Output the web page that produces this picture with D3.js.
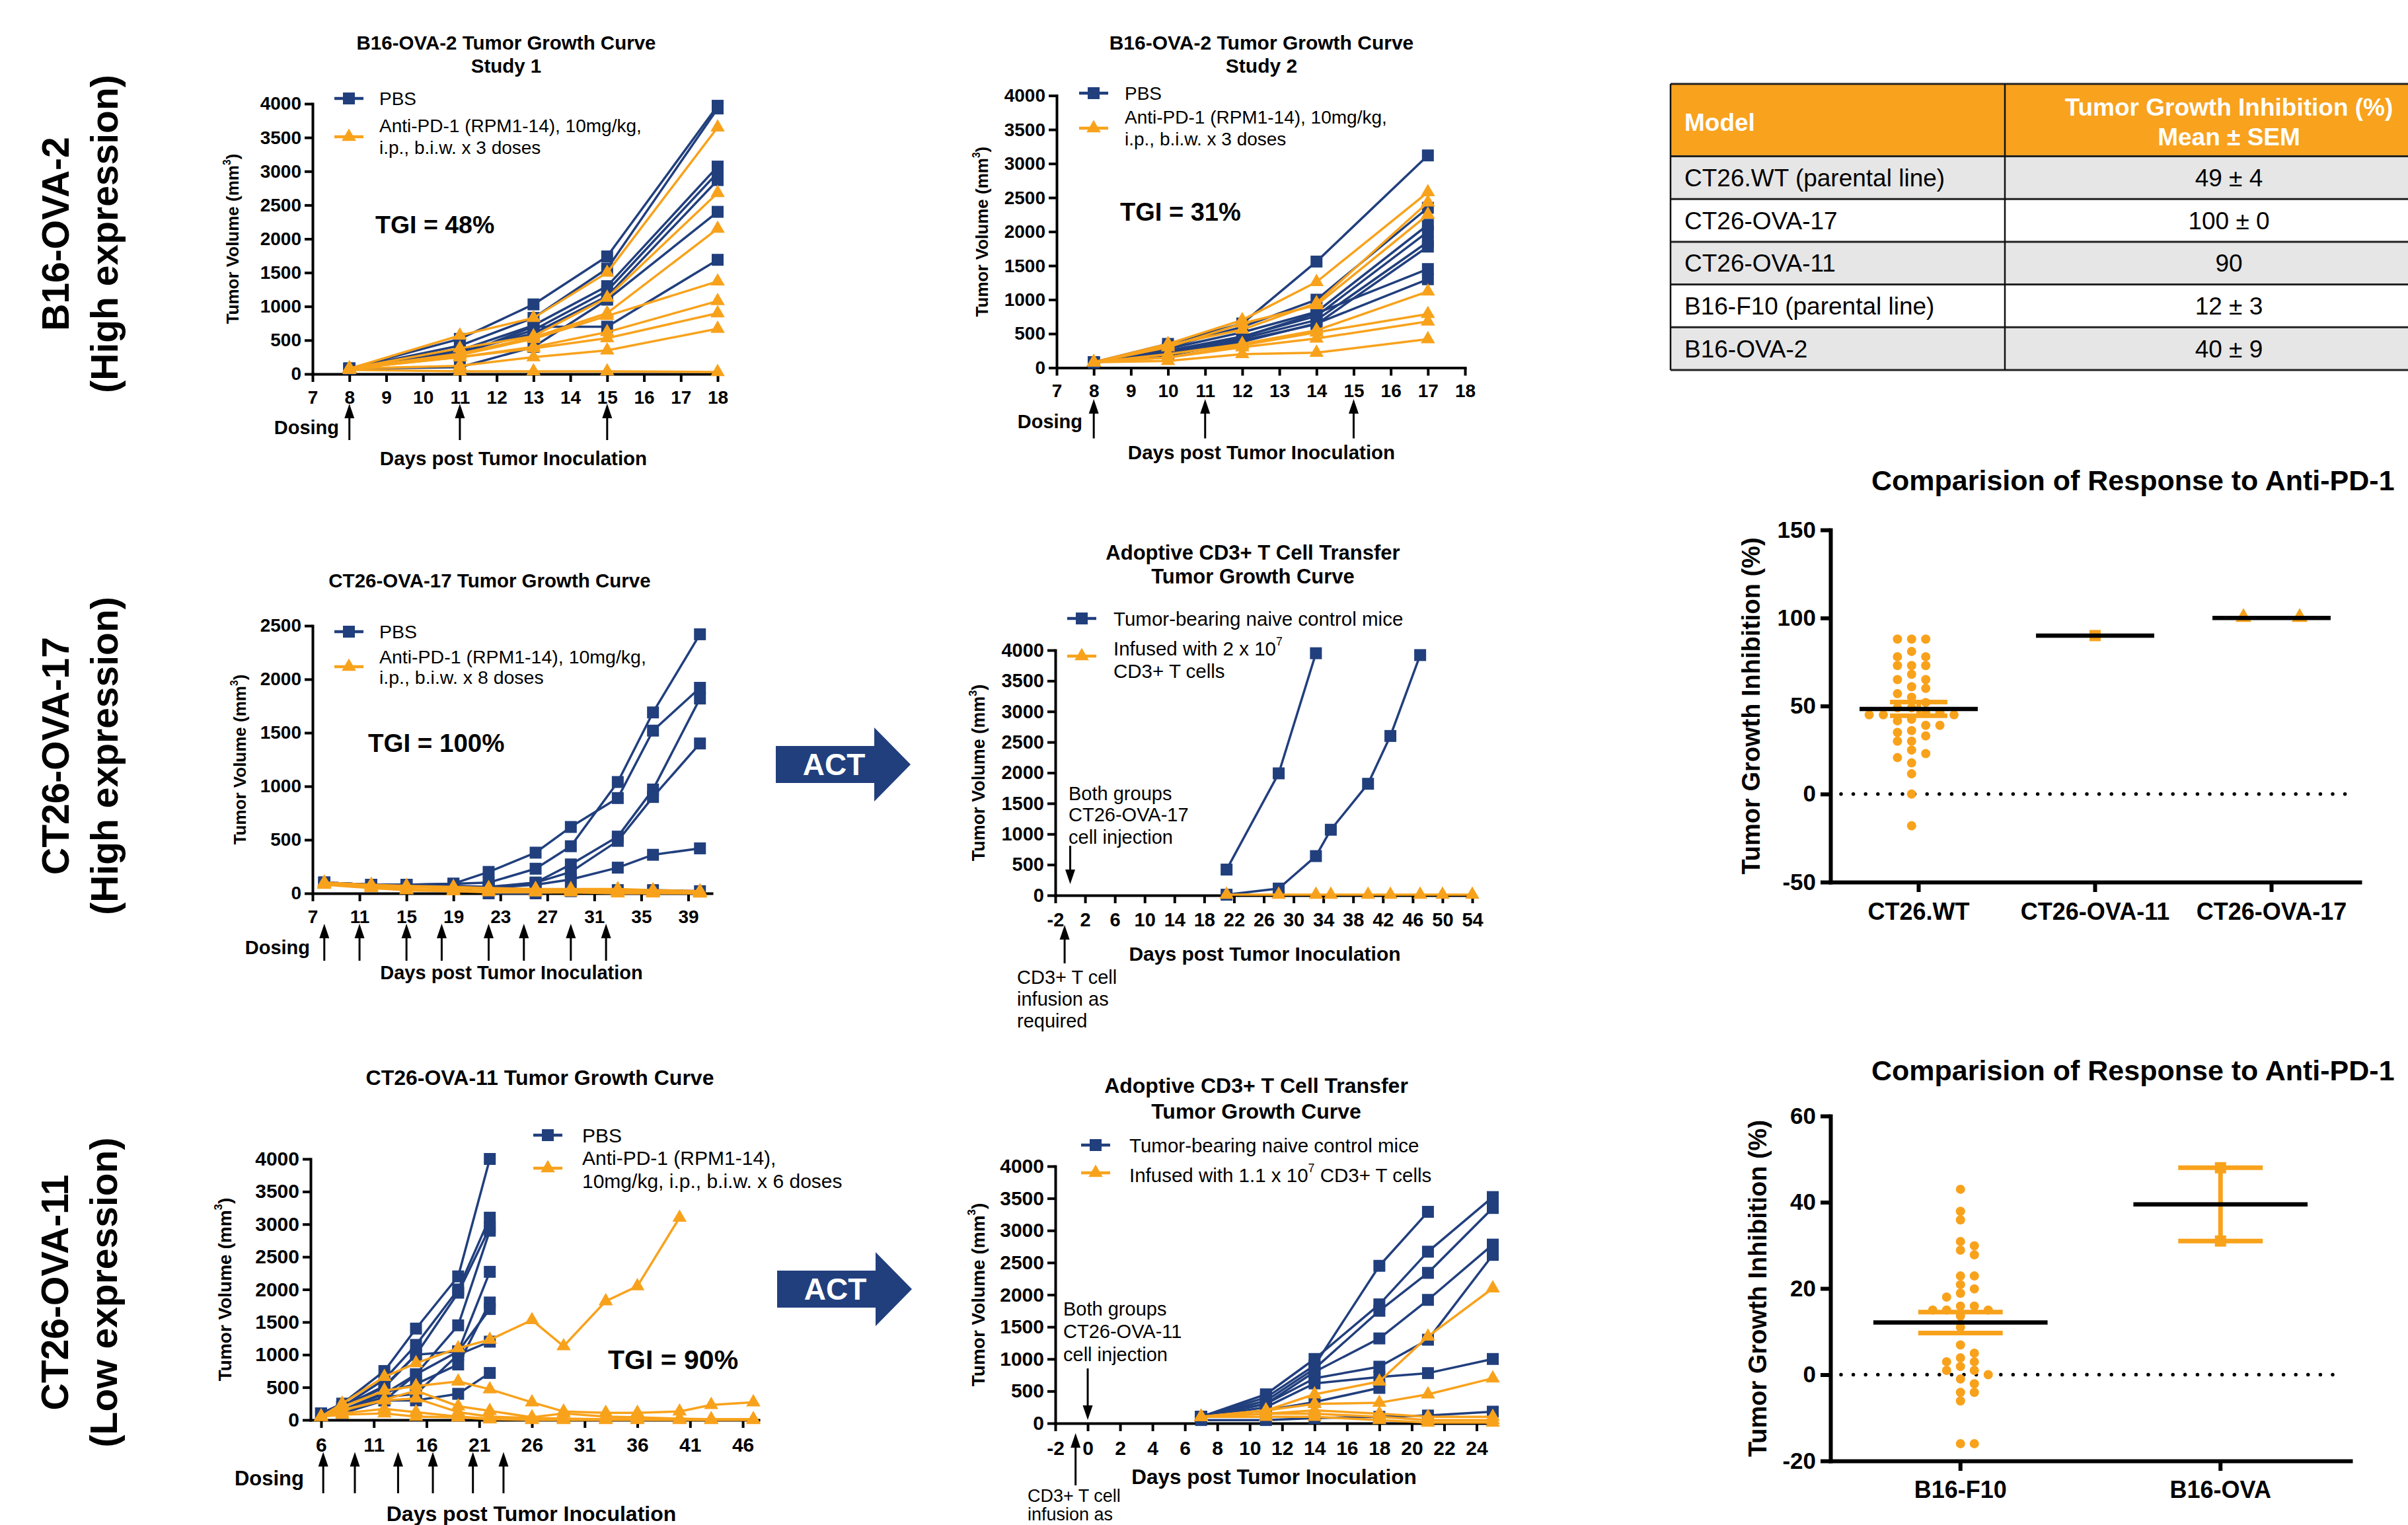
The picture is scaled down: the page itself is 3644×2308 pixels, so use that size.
<!DOCTYPE html>
<html><head><meta charset="utf-8">
<script src="https://cdn.jsdelivr.net/npm/d3@7"></script>
<style>
body{margin:0;background:#fff;}
svg{display:block;}
</style></head><body>
<svg id="c" width="3644" height="2308"></svg>
<script>
// ===================== DATA =====================
// Panel: B16-OVA-2 Study 1
const s1Days = [8, 11, 13, 15, 18];
const s1PBS = [
  [80, 520, 1030, 1740, 3970],
  [80, 420, 830, 1560, 3930],
  [80, 350, 720, 1300, 3070],
  [80, 300, 650, 1230, 2980],
  [80, 330, 600, 1150, 2870],
  [80, 100, 400, 1100, 2400],
  [80, 280, 700, 700, 1690]
];
const s1Anti = [
  [80, 570, 830, 1500, 3650],
  [80, 380, 560, 1130, 2680],
  [80, 300, 540, 900, 2150],
  [80, 280, 520, 860, 1370],
  [80, 250, 400, 620, 1080],
  [80, 250, 380, 530, 900],
  [80, 120, 250, 350, 670],
  [60, 40, 40, 40, 30]
];
const s1Dosing = [8, 11, 15];
const s1Series = ["PBS", "Anti-PD-1 (RPM1-14), 10mg/kg,|i.p., b.i.w. x 3 doses"];

// Panel: B16-OVA-2 Study 2
const s2Days = [8, 10, 12, 14, 17];
const s2PBS = [
  [80, 350, 650, 1560, 3120],
  [80, 300, 600, 1000, 2350],
  [80, 280, 520, 820, 2100],
  [80, 250, 460, 760, 2000],
  [80, 240, 430, 700, 1850],
  [80, 220, 400, 640, 1780],
  [80, 200, 450, 800, 1450],
  [80, 180, 380, 650, 1300]
];
const s2Anti = [
  [80, 350, 700, 1260, 2580],
  [80, 330, 560, 950, 2430],
  [80, 300, 650, 920, 2250],
  [80, 200, 350, 550, 1120],
  [80, 150, 330, 520, 790],
  [80, 150, 300, 430, 680],
  [80, 100, 200, 220, 420]
];
const s2Dosing = [8, 11, 15];
const s2Series = ["PBS", "Anti-PD-1 (RPM1-14), 10mg/kg,|i.p., b.i.w. x 3 doses"];

// Panel: CT26-OVA-17
const o17Days = [8, 12, 15, 19, 22, 26, 29, 33, 36, 40];
const o17PBS = [
  [100, 80, 80, 90, 100, 230, 440, 1040, 1690, 2420],
  [100, 80, 80, 90, 200, 380, 620, 890, 1520, 1920],
  [100, 80, 80, 70, 60, 100, 270, 530, 970, 1820],
  [100, 80, 80, 70, 50, 100, 200, 490, 900, 1400],
  [100, 80, 80, 60, 50, 80, 130, 240, 360, 420],
  [100, 80, 80, 50, 0, 0, 20, 30, 30, 20]
];
const o17Anti = [
  [100, 70, 60, 50, 40, 40, 40, 40, 30, 20],
  [90, 60, 40, 30, 20, 20, 20, 20, 10, 10],
  [80, 50, 30, 20, 10, 10, 10, 10, 10, 0],
  [100, 80, 70, 60, 50, 40, 30, 30, 20, 10],
  [90, 60, 30, 20, 20, 10, 10, 0, 0, 0]
];
const o17Dosing = [8, 11, 15, 18, 22, 25, 29, 32];
const o17Series = ["PBS", "Anti-PD-1 (RPM1-14), 10mg/kg,|i.p., b.i.w. x 8 doses"];

// Panel: ACT CT26-OVA-17
const act1Days = [21, 28, 33, 35, 40, 43, 47, 50, 54];
const act1Control = [
  [420, 1990, 3950, null, null, null, null, null, null],
  [10, 110, 640, 1070, 1820, 2600, 3920, null, null]
];
const act1Infused = [
  [10, 10, 10, 10, 10, 10, 10, 10, 10]
];
const act1Series = ["Tumor-bearing naive control mice", "Infused with 2 x 10^7|CD3+ T cells"];

// Panel: CT26-OVA-11
const o11Days = [6, 8, 12, 15, 19, 22, 26, 29, 33, 36, 40, 43, 47];
const o11PBS = [
  [100, 250, 750, 1400, 2200, 4000],
  [100, 200, 620, 1150, 2000, 3100],
  [100, 200, 500, 1000, 1950, 2950],
  [100, 150, 400, 700, 1450, 2900],
  [100, 200, 520, 1000, 1050, 2270],
  [100, 150, 420, 550, 850, 1800],
  [100, 150, 300, 700, 1050, 1700],
  [100, 150, 350, 400, 1000, 1200],
  [100, 100, 300, 300, 400, 720]
];
const o11Anti = [
  [50, 250, 660, 870, 1100, 1230, 1530, 1130, 1820, 2050, 3100, null, null],
  [50, 200, 450, 520, 590, 470, 270, 130, 110, 110, 130, 230, 270],
  [50, 150, 310, 450, 210, 140, 40, 100, 50, 40, 20, 10, 10],
  [50, 150, 300, 330, 120, 50, 30, 20, 10, 10, 10, 10, 10],
  [50, 100, 170, 120, 50, 20, 10, 10, 10, 10, null, null, null],
  [50, 80, 100, 50, 40, 10, 0, 0, 0, 0, 0, 0, 0]
];
const o11Dosing = [6.2, 9.2, 13.3, 16.6, 20.4, 23.3];
const o11Series = ["PBS", "Anti-PD-1 (RPM1-14),|10mg/kg, i.p., b.i.w. x 6 doses"];

// Panel: ACT CT26-OVA-11
const act2Days = [7, 11, 14, 18, 21, 25];
const act2Control = [
  [100, 400, 900, 2450, 3290, null],
  [100, 450, 1000, 1850, 2670, 3520],
  [100, 350, 850, 1750, 2340, 3350],
  [100, 300, 800, 1320, 1920, 2780],
  [100, 300, 700, 880, 1300, 2620],
  [100, 250, 620, 720, 780, 1000],
  [100, 200, 330, 550, null, null],
  [50, 50, 80, 100, 120, 180]
];
const act2Infused = [
  [100, 200, 450, 650, 1350, 2100],
  [100, 200, 300, 320, 450, 700],
  [100, 150, 200, 150, 100, 100],
  [100, 150, 150, 100, 50, 50],
  [100, 100, 100, 50, 10, 10]
];
const act2Series = ["Tumor-bearing naive control mice", "Infused with 1.1 x 10^7 CD3+ T cells"];

// Table
const tableHeader = ["Model", "Tumor Growth Inhibition (%)|Mean ± SEM"];
const tableModels = ["CT26.WT (parental line)", "CT26-OVA-17", "CT26-OVA-11", "B16-F10 (parental line)", "B16-OVA-2"];
const tableTGI = ["49 ± 4", "100 ± 0", "90", "12 ± 3", "40 ± 9"];

// Scatter 1 (CT26)
const ct26Cats = ["CT26.WT", "CT26-OVA-11", "CT26-OVA-17"];
const ct26WT = [88, 88, 88, 81, 78, 78, 73, 73, 73, 68, 65, 65, 61, 60, 57, 55, 52, 49, 49, 46, 46, 45, 45, 45,
  42.5, 41.6, 39, 39, 36, 35, 33, 30, 30, 25, 23, 20.7, 17.7, 11.5, 0, -18];
const ct26OVA11 = [90];
const ct26OVA17 = [100, 100];

// Scatter 2 (B16)
const b16Cats = ["B16-F10", "B16-OVA"];
const b16F10 = [43, 37.9, 35.9, 30.9, 29.9, 28.9, 27.8, 22.9, 22.9, 20.9, 19.9, 18.9, 18, 15.9, 15.9, 15, 15, 15,
  13.6, 11, 6.9, 5, 3.9, 3, 3, 1.9, 1, 1, 0, -1, -2.1, -4.1, -4.1, -6.1, -16, -16];
const b16OVA = [48, 31];

const rowLabels = [["B16-OVA-2", "(High expression)"], ["CT26-OVA-17", "(High expression)"], ["CT26-OVA-11", "(Low expression)"]];

// ===================== DRAWING =====================
const FONT = '"Liberation Sans", Arial, Helvetica, sans-serif';
const BLUE = "#213f7d", ORANGE = "#f8a21c";
const SQ = "M-9,-9h18v18h-18z";
const TRI = "M0,-12.5L10.8,6.2L-10.8,6.2Z";
const svg = d3.select("#c").attr("font-family", FONT);

function rich(sel, str) {
  str.split(/(\^\w)/).forEach(p => {
    if (!p) return;
    if (p[0] === "^") sel.append("tspan").attr("baseline-shift", "super").attr("font-size", "0.6em").text(p.slice(1));
    else sel.append("tspan").text(p);
  });
}
function T(g, x, y, str, o = {}) {
  const t = g.append("text").attr("x", x).attr("y", y)
    .attr("font-size", o.size || 28).attr("font-weight", o.weight || "normal")
    .attr("text-anchor", o.anchor || "start").attr("dominant-baseline", "central")
    .attr("fill", o.fill || "#000");
  if (o.rotate) t.attr("transform", `rotate(-90,${x},${y})`);
  rich(t, str);
  return t;
}
function vArrow(g, x, yTail, yTip, hl = 22, hw = 15, sw = 3) {
  const dir = yTip < yTail ? -1 : 1;
  g.append("line").attr("x1", x).attr("x2", x).attr("y1", yTail).attr("y2", yTip - dir * hl * 0.8)
    .attr("stroke", "#000").attr("stroke-width", sw);
  g.append("path").attr("d", `M${x},${yTip}L${x - hw / 2},${yTip - dir * hl}L${x + hw / 2},${yTip - dir * hl}Z`).attr("fill", "#000");
}
function styleAxis(a, sw, fs) {
  a.select(".domain").attr("stroke", "#000").attr("stroke-width", sw).attr("stroke-linecap", "square");
  a.selectAll(".tick line").attr("stroke", "#000").attr("stroke-width", sw);
  a.selectAll(".tick text").attr("font-size", fs).attr("font-weight", "bold").attr("fill", "#000").attr("font-family", FONT);
}
const fmt = d => String(d);

function growth(c) {
  const g = svg.append("g");
  const x = d3.scaleLinear().domain(c.xDomain).range(c.xRange);
  const y = d3.scaleLinear().domain(c.yDomain).range(c.yRange);
  const xa = g.append("g").attr("transform", `translate(0,${c.yRange[0]})`)
    .call(d3.axisBottom(x).tickValues(c.xTicks).tickFormat(fmt).tickSize(12).tickSizeOuter(0).tickPadding(c.tickPad));
  const ya = g.append("g").attr("transform", `translate(${c.xRange[0]},0)`)
    .call(d3.axisLeft(y).tickValues(c.yTicks).tickFormat(fmt).tickSize(12).tickSizeOuter(0).tickPadding(5));
  styleAxis(xa, 4, c.tickFont); styleAxis(ya, 4, c.tickFont);

  const line = d3.line().defined(d => d.v != null).x(d => x(d.d)).y(d => y(d.v));
  function series(list, color, shape) {
    list.forEach(vals => {
      const pts = c.days.map((d, i) => ({ d, v: vals[i] == null ? null : vals[i] }));
      g.append("path").datum(pts).attr("d", line).attr("fill", "none").attr("stroke", color)
        .attr("stroke-width", 3.5).attr("stroke-linejoin", "round");
      g.selectAll(null).data(pts.filter(p => p.v != null)).join("path").attr("d", shape)
        .attr("transform", p => `translate(${x(p.d)},${y(p.v)})`).attr("fill", color);
    });
  }
  series(c.blue, BLUE, SQ);
  series(c.orange, ORANGE, TRI);

  // legend
  const L = c.legend;
  [[L.y1, BLUE, SQ], [L.y2, ORANGE, TRI]].forEach(([yy, col, sh]) => {
    g.append("line").attr("x1", L.x - 22).attr("x2", L.x + 22).attr("y1", yy).attr("y2", yy).attr("stroke", col).attr("stroke-width", 4.5);
    g.append("path").attr("d", sh).attr("transform", `translate(${L.x},${yy})`).attr("fill", col);
  });
  c.names[0].split("|").forEach((s, i) => T(g, L.tx, L.ty1[i], s, { size: L.font }));
  c.names[1].split("|").forEach((s, i) => T(g, L.tx, L.ty2[i], s, { size: L.font }));

  // title
  c.title.forEach((s, i) => T(g, c.titleX, c.titleY[i], s, { size: c.titleFont, weight: "bold", anchor: "middle" }));
  if (c.tgi) T(g, c.tgi.x, c.tgi.y, c.tgi.text, { size: c.tgi.font, weight: "bold" });
  if (c.dosing) {
    c.dosing.forEach(d => vArrow(g, x(d), c.arrowTail, c.arrowTip));
    T(g, c.dosingLabel.x, c.dosingLabel.y, "Dosing", { size: c.dosingLabel.font, weight: "bold", anchor: "end" });
  }
  (c.notes || []).forEach(n => {
    n.lines.forEach((s, i) => T(g, n.x, n.ys[i], s, { size: n.font }));
    vArrow(g, x(n.day), n.tail, n.tip);
  });
  T(g, c.xTitle.x, c.xTitle.y, "Days post Tumor Inoculation", { size: c.xTitle.font, weight: "bold", anchor: "middle" });
  T(g, c.yTitleX, (c.yRange[0] + c.yRange[1]) / 2, "Tumor Volume (mm^3)", { size: c.yTitleFont, weight: "bold", anchor: "middle", rotate: true });
}

const vTicks4000 = d3.range(0, 4001, 500);

growth({
  days: s1Days, blue: s1PBS, orange: s1Anti, names: s1Series, dosing: s1Dosing,
  xDomain: [7, 18], xRange: [473, 1086], yDomain: [0, 4000], yRange: [566, 157],
  xTicks: d3.range(7, 19, 1), yTicks: vTicks4000, tickFont: 28, tickPad: 13,
  title: ["B16-OVA-2 Tumor Growth Curve", "Study 1"], titleX: 766, titleY: [64, 99], titleFont: 29.5,
  legend: { x: 528, y1: 149, y2: 207, tx: 574, ty1: [149], ty2: [190, 223], font: 28 },
  tgi: { text: "TGI = 48%", x: 568, y: 340, font: 37.5 },
  arrowTip: 611, arrowTail: 666, dosingLabel: { x: 513, y: 647, font: 29 },
  xTitle: { x: 777, y: 693, font: 29.5 }, yTitleX: 352, yTitleFont: 26
});
growth({
  days: s2Days, blue: s2PBS, orange: s2Anti, names: s2Series, dosing: s2Dosing,
  xDomain: [7, 18], xRange: [1599, 2217], yDomain: [0, 4000], yRange: [556.5, 144.6],
  xTicks: d3.range(7, 19, 1), yTicks: vTicks4000, tickFont: 28, tickPad: 13,
  title: ["B16-OVA-2 Tumor Growth Curve", "Study 2"], titleX: 1909, titleY: [64, 99], titleFont: 30,
  legend: { x: 1655, y1: 141, y2: 194, tx: 1702, ty1: [141], ty2: [177, 210], font: 28 },
  tgi: { text: "TGI = 31%", x: 1695, y: 321, font: 38 },
  arrowTip: 604, arrowTail: 663.5, dosingLabel: { x: 1638, y: 638, font: 29 },
  xTitle: { x: 1909, y: 684, font: 29.5 }, yTitleX: 1486, yTitleFont: 26
});
growth({
  days: o17Days, blue: o17PBS, orange: o17Anti, names: o17Series, dosing: o17Dosing,
  xDomain: [7, 41], xRange: [473, 1077], yDomain: [0, 2500], yRange: [1352, 947],
  xTicks: d3.range(7, 40, 4), yTicks: d3.range(0, 2501, 500), tickFont: 28, tickPad: 13,
  title: ["CT26-OVA-17 Tumor Growth Curve"], titleX: 741, titleY: [878], titleFont: 29.5,
  legend: { x: 528, y1: 956, y2: 1009, tx: 574, ty1: [956], ty2: [994, 1025], font: 28.5 },
  tgi: { text: "TGI = 100%", x: 557, y: 1124, font: 38.5 },
  arrowTip: 1398, arrowTail: 1454, dosingLabel: { x: 469, y: 1434, font: 29 },
  xTitle: { x: 774, y: 1472, font: 29 }, yTitleX: 363, yTitleFont: 26
});
growth({
  days: act1Days, blue: act1Control, orange: act1Infused, names: act1Series,
  xDomain: [-2, 54], xRange: [1597, 2228], yDomain: [0, 4000], yRange: [1355, 984],
  xTicks: d3.range(-2, 55, 4), yTicks: vTicks4000, tickFont: 29, tickPad: 14,
  title: ["Adoptive CD3+ T Cell Transfer", "Tumor Growth Curve"], titleX: 1896, titleY: [836, 872], titleFont: 31,
  legend: { x: 1637, y1: 936, y2: 993, tx: 1685, ty1: [936], ty2: [981, 1014.5], font: 29.5 },
  notes: [
    { lines: ["Both groups", "CT26-OVA-17", "cell injection"], x: 1617, ys: [1201, 1233, 1267], font: 29, day: 0, tail: 1280, tip: 1338 },
    { lines: ["CD3+ T cell", "infusion as", "required"], x: 1539, ys: [1479, 1512, 1545], font: 29, day: -0.75, tail: 1458, tip: 1400 }
  ],
  xTitle: { x: 1914, y: 1443, font: 30 }, yTitleX: 1481, yTitleFont: 27
});
growth({
  days: o11Days, blue: o11PBS, orange: o11Anti, names: o11Series, dosing: o11Dosing,
  xDomain: [5, 47.5], xRange: [470, 1148], yDomain: [0, 4000], yRange: [2149, 1754],
  xTicks: d3.range(6, 47, 5), yTicks: vTicks4000, tickFont: 30, tickPad: 15,
  title: ["CT26-OVA-11 Tumor Growth Curve"], titleX: 817, titleY: [1631], titleFont: 32,
  legend: { x: 829, y1: 1718, y2: 1768, tx: 881, ty1: [1718], ty2: [1752, 1787], font: 30 },
  tgi: { text: "TGI = 90%", x: 920, y: 2058, font: 41 },
  arrowTip: 2197.5, arrowTail: 2260, dosingLabel: { x: 460, y: 2237, font: 31 },
  xTitle: { x: 804, y: 2291, font: 32 }, yTitleX: 340, yTitleFont: 28
});
growth({
  days: act2Days, blue: act2Control, orange: act2Infused, names: act2Series,
  xDomain: [-2, 25], xRange: [1597, 2259], yDomain: [0, 4000], yRange: [2154, 1765],
  xTicks: d3.range(-2, 25, 2), yTicks: vTicks4000, tickFont: 30, tickPad: 15,
  title: ["Adoptive CD3+ T Cell Transfer", "Tumor Growth Curve"], titleX: 1901, titleY: [1643, 1682], titleFont: 32,
  legend: { x: 1658, y1: 1733, y2: 1775, tx: 1709, ty1: [1733], ty2: [1778], font: 29.5 },
  notes: [
    { lines: ["Both groups", "CT26-OVA-11", "cell injection"], x: 1609, ys: [1981, 2015, 2050], font: 29, day: 0, tail: 2071, tip: 2149 },
    { lines: ["CD3+ T cell", "infusion as"], x: 1555, ys: [2264, 2292], font: 27, day: -0.75, tail: 2248, tip: 2169 }
  ],
  xTitle: { x: 1928, y: 2235, font: 31.5 }, yTitleX: 1480, yTitleFont: 28
});

// ACT arrows
function actArrow(x0, yc) {
  const g = svg.append("g");
  g.append("path").attr("d", `M${x0},${yc - 28}H${x0 + 149}V${yc - 56}L${x0 + 204},${yc}L${x0 + 149},${yc + 56}V${yc + 28}H${x0}Z`).attr("fill", BLUE);
  T(g, x0 + 88, yc, "ACT", { size: 46, weight: "bold", anchor: "middle", fill: "#fff" });
}
actArrow(1174, 1157);
actArrow(1176, 1951);

// Row labels
[[354, 84, 158], [1144, 84, 158], [1956, 83, 157]].forEach(([yc, x1, x2], i) => {
  T(svg, x1, yc, rowLabels[i][0], { size: 57, weight: "bold", anchor: "middle", rotate: true });
  T(svg, x2, yc, rowLabels[i][1], { size: 57, weight: "bold", anchor: "middle", rotate: true });
});

// Table
(function () {
  const g = svg.append("g");
  const x0 = 2528, xm = 3034, x1 = 3650, top = 127, hb = 236.5, rh = 64.7;
  g.append("rect").attr("x", x0).attr("y", top).attr("width", x1 - x0).attr("height", hb - top).attr("fill", "#f8a21e");
  tableModels.forEach((m, i) => {
    const yt = hb + i * rh;
    g.append("rect").attr("x", x0).attr("y", yt).attr("width", x1 - x0).attr("height", rh).attr("fill", i % 2 === 0 ? "#e6e6e6" : "#ffffff");
    T(g, 2549, yt + rh / 2, m, { size: 37 });
    T(g, 3373, yt + rh / 2, tableTGI[i], { size: 37, anchor: "middle" });
  });
  d3.range(0, tableModels.length + 1).forEach(i => {
    const yy = hb + i * rh;
    g.append("line").attr("x1", x0).attr("x2", x1).attr("y1", yy).attr("y2", yy).attr("stroke", "#222").attr("stroke-width", 3);
  });
  g.append("line").attr("x1", x0).attr("x2", x1).attr("y1", top).attr("y2", top).attr("stroke", "#222").attr("stroke-width", 3);
  [x0, xm].forEach(xx => g.append("line").attr("x1", xx).attr("x2", xx).attr("y1", top).attr("y2", hb + tableModels.length * rh).attr("stroke", "#111").attr("stroke-width", 2.5));
  T(g, 2549, 185, tableHeader[0], { size: 37, weight: "bold", fill: "#fff" });
  tableHeader[1].split("|").forEach((s, i) => T(g, 3373, [161.5, 206.5][i], s, { size: 37, weight: "bold", fill: "#fff", anchor: "middle" }));
})();

// Scatter plots
function swarm(vals, y, spacing, half) {
  if (spacing === 0) return vals.map(v => ({ v, dx: 0 }));
  const cands = half ? [-0.5, 0.5, -1.5, 1.5, -2.5, 2.5, -3.5, 3.5, -4.5, 4.5] : [0, 1, -1, 2, -2, 3, -3, 4, -4];
  const placed = [];
  vals.slice().sort((a, b) => b - a).forEach(v => {
    const py = y(v);
    for (const k of cands) {
      if (!placed.some(p => p.k === k && Math.abs(p.py - py) < 12.5)) { placed.push({ k, py, v }); break; }
    }
  });
  return placed.map(p => ({ v: p.v, dx: p.k * spacing }));
}
function scatter(c) {
  const g = svg.append("g");
  const x = d3.scaleBand().domain(c.cats).range(c.xRange).padding(0);
  const y = d3.scaleLinear().domain(c.yDomain).range(c.yRange);
  const bw = x.bandwidth();
  const xa = g.append("g").attr("transform", `translate(0,${c.yRange[0]})`)
    .call(d3.axisBottom(x).tickSize(15).tickSizeOuter(0).tickPadding(c.catPad));
  const ya = g.append("g").attr("transform", `translate(${c.xRange[0]},0)`)
    .call(d3.axisLeft(y).tickValues(c.yTicks).tickFormat(fmt).tickSize(15).tickSizeOuter(0).tickPadding(7));
  styleAxis(xa, 6, 36); styleAxis(ya, 6, 35);
  g.append("line").attr("x1", c.xRange[0] + 16).attr("x2", c.xRange[1] - 16).attr("y1", y(0)).attr("y2", y(0))
    .attr("stroke", "#000").attr("stroke-width", 5.5).attr("stroke-linecap", "round").attr("stroke-dasharray", "0 18.6");
  c.groups.forEach((vals, i) => {
    const cx = x(c.cats[i]) + bw / 2;
    const pts = swarm(vals, y, c.spacing[i], c.half[i]);
    pts.forEach(p => {
      if (c.shapes[i] === "circle") g.append("circle").attr("cx", cx + p.dx).attr("cy", y(p.v)).attr("r", 7).attr("fill", ORANGE);
      else g.append("path").attr("d", c.shapes[i] === "square" ? "M-8.5,-8.5h17v17h-17z" : "M0,-15L12,6L-12,6Z")
        .attr("transform", `translate(${cx + p.dx},${y(p.v)})`).attr("fill", ORANGE);
    });
    const mean = d3.mean(vals);
    if (vals.length > 1 && d3.deviation(vals) > 0) {
      const sem = d3.deviation(vals) / Math.sqrt(vals.length);
      const hw = bw * 0.1625;
      g.append("line").attr("x1", cx).attr("x2", cx).attr("y1", y(mean + sem)).attr("y2", y(mean - sem)).attr("stroke", ORANGE).attr("stroke-width", 7);
      [mean + sem, mean - sem].forEach(v => g.append("line").attr("x1", cx - hw).attr("x2", cx + hw).attr("y1", y(v)).attr("y2", y(v)).attr("stroke", ORANGE).attr("stroke-width", 7));
    }
    g.append("line").attr("x1", cx - bw * 0.335).attr("x2", cx + bw * 0.335).attr("y1", y(mean)).attr("y2", y(mean)).attr("stroke", "#000").attr("stroke-width", 6.5);
  });
  T(g, c.titleX, c.titleY, "Comparision of Response to Anti-PD-1", { size: 43, weight: "bold" });
  T(g, c.yTitleX, (c.yRange[0] + c.yRange[1]) / 2, "Tumor Growth Inhibition (%)", { size: 38, weight: "bold", anchor: "middle", rotate: true });
}
scatter({
  cats: ct26Cats, groups: [ct26WT, ct26OVA11, ct26OVA17], shapes: ["circle", "square", "triangle"],
  spacing: [21.4, 0, 85], half: [true, false, true],
  xRange: [2770, 3571], yDomain: [-50, 150], yRange: [1335, 802], yTicks: [-50, 0, 50, 100, 150], catPad: 16,
  titleX: 2832, titleY: 727, yTitleX: 2650
});
scatter({
  cats: b16Cats, groups: [b16F10, b16OVA], shapes: ["circle", "square"],
  spacing: [21, 0], half: [false, false],
  xRange: [2770, 3557], yDomain: [-20, 60], yRange: [2211, 1689], yTicks: [-20, 0, 20, 40, 60], catPad: 15.5,
  titleX: 2832, titleY: 1620, yTitleX: 2660
});
</script>
</body></html>
